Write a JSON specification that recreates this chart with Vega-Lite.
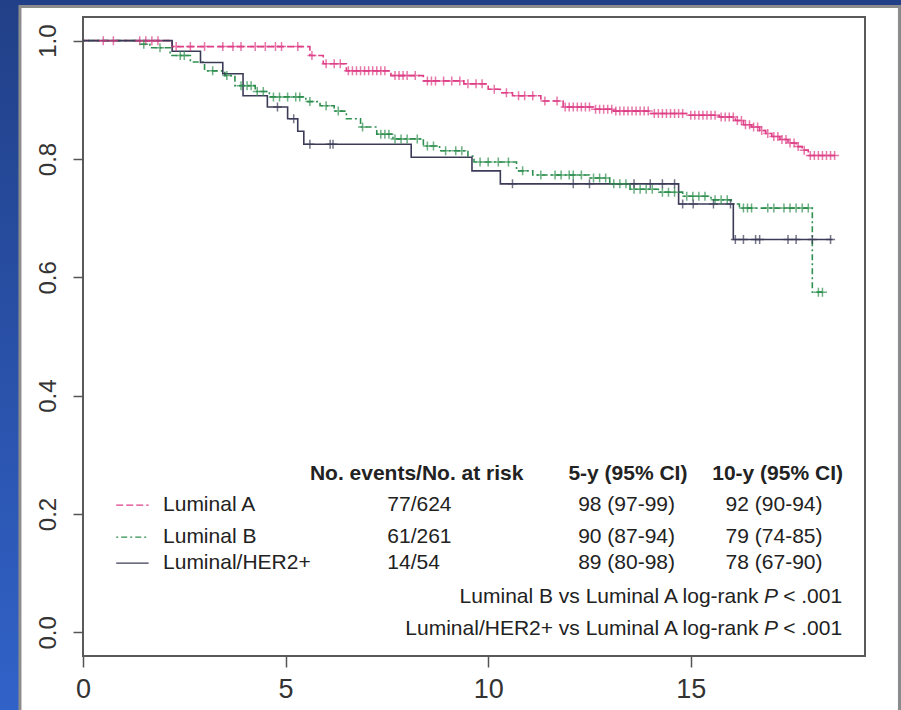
{
  "$schema": "https://vega.github.io/schema/vega-lite/v6.json",
  "width": 782,
  "height": 639,
  "autosize": {"type": "none"},
  "padding": {"left": 83, "top": 17, "right": 36, "bottom": 54},
  "background": "#2a52a8",
  "config": {
    "view": {"stroke": null},
    "font": "Liberation Sans",
    "axis": {"grid": false, "domain": false, "labelColor": "#333333", "tickColor": "#555555", "tickWidth": 1.5, "labelFont": "Liberation Sans", "labelOverlap": false, "labelFlush": false},
    "axisX": {"labelFontSize": 27, "tickSize": 11, "labelPadding": 9},
    "axisY": {"labelFontSize": 24, "labelAngle": -90, "labelAlign": "center", "labelBaseline": "bottom", "tickSize": 10, "labelPadding": 13}
  },
  "datasets": {
    "curves": [
      {"g": "A", "t": 0, "s": 1}, {"g": "A", "t": 2.2, "s": 0.99}, {"g": "A", "t": 5.6, "s": 0.975}, {"g": "A", "t": 5.93, "s": 0.961}, {"g": "A", "t": 6.5, "s": 0.949}, {"g": "A", "t": 7.6, "s": 0.941}, {"g": "A", "t": 8.4, "s": 0.932}, {"g": "A", "t": 9.4, "s": 0.927}, {"g": "A", "t": 10.0, "s": 0.918}, {"g": "A", "t": 10.3, "s": 0.912}, {"g": "A", "t": 10.6, "s": 0.907}, {"g": "A", "t": 11.3, "s": 0.898}, {"g": "A", "t": 11.85, "s": 0.888}, {"g": "A", "t": 12.6, "s": 0.884}, {"g": "A", "t": 13.1, "s": 0.881}, {"g": "A", "t": 14.0, "s": 0.877}, {"g": "A", "t": 14.9, "s": 0.874}, {"g": "A", "t": 15.7, "s": 0.871}, {"g": "A", "t": 16.1, "s": 0.865}, {"g": "A", "t": 16.3, "s": 0.858}, {"g": "A", "t": 16.5, "s": 0.854}, {"g": "A", "t": 16.7, "s": 0.848}, {"g": "A", "t": 16.85, "s": 0.843}, {"g": "A", "t": 17.0, "s": 0.838}, {"g": "A", "t": 17.2, "s": 0.833}, {"g": "A", "t": 17.4, "s": 0.827}, {"g": "A", "t": 17.6, "s": 0.821}, {"g": "A", "t": 17.75, "s": 0.815}, {"g": "A", "t": 17.9, "s": 0.806}, {"g": "A", "t": 18.6, "s": 0.806},
      {"g": "B", "t": 0, "s": 1}, {"g": "B", "t": 1.4, "s": 0.994}, {"g": "B", "t": 1.65, "s": 0.988}, {"g": "B", "t": 2.15, "s": 0.975}, {"g": "B", "t": 2.65, "s": 0.964}, {"g": "B", "t": 3.0, "s": 0.949}, {"g": "B", "t": 3.5, "s": 0.941}, {"g": "B", "t": 3.75, "s": 0.924}, {"g": "B", "t": 4.25, "s": 0.914}, {"g": "B", "t": 4.6, "s": 0.905}, {"g": "B", "t": 5.5, "s": 0.897}, {"g": "B", "t": 5.85, "s": 0.89}, {"g": "B", "t": 6.2, "s": 0.881}, {"g": "B", "t": 6.5, "s": 0.868}, {"g": "B", "t": 6.85, "s": 0.854}, {"g": "B", "t": 7.25, "s": 0.842}, {"g": "B", "t": 7.65, "s": 0.834}, {"g": "B", "t": 8.4, "s": 0.822}, {"g": "B", "t": 8.8, "s": 0.814}, {"g": "B", "t": 9.5, "s": 0.805}, {"g": "B", "t": 9.65, "s": 0.795}, {"g": "B", "t": 10.7, "s": 0.78}, {"g": "B", "t": 11.1, "s": 0.773}, {"g": "B", "t": 12.5, "s": 0.768}, {"g": "B", "t": 13.0, "s": 0.758}, {"g": "B", "t": 13.5, "s": 0.749}, {"g": "B", "t": 14.2, "s": 0.744}, {"g": "B", "t": 14.8, "s": 0.737}, {"g": "B", "t": 15.5, "s": 0.731}, {"g": "B", "t": 16.0, "s": 0.724}, {"g": "B", "t": 16.2, "s": 0.717}, {"g": "B", "t": 18.0, "s": 0.575}, {"g": "B", "t": 18.25, "s": 0.575},
      {"g": "H", "t": 0, "s": 1}, {"g": "H", "t": 2.2, "s": 0.982}, {"g": "H", "t": 2.9, "s": 0.963}, {"g": "H", "t": 3.45, "s": 0.944}, {"g": "H", "t": 3.95, "s": 0.907}, {"g": "H", "t": 4.55, "s": 0.888}, {"g": "H", "t": 5.05, "s": 0.868}, {"g": "H", "t": 5.3, "s": 0.847}, {"g": "H", "t": 5.45, "s": 0.825}, {"g": "H", "t": 8.1, "s": 0.803}, {"g": "H", "t": 9.6, "s": 0.78}, {"g": "H", "t": 10.3, "s": 0.758}, {"g": "H", "t": 14.7, "s": 0.724}, {"g": "H", "t": 16.05, "s": 0.664}, {"g": "H", "t": 18.5, "s": 0.664}
    ],
    "censor": [
      {"g": "A", "t": 0.5, "s": 1}, {"g": "A", "t": 0.75, "s": 1}, {"g": "A", "t": 1.4, "s": 1}, {"g": "A", "t": 1.55, "s": 1}, {"g": "A", "t": 1.7, "s": 1}, {"g": "A", "t": 1.85, "s": 1},
      {"g": "A", "t": 2.3, "s": 0.99}, {"g": "A", "t": 2.65, "s": 0.99}, {"g": "A", "t": 3.0, "s": 0.99}, {"g": "A", "t": 3.45, "s": 0.99}, {"g": "A", "t": 3.7, "s": 0.99}, {"g": "A", "t": 3.9, "s": 0.99}, {"g": "A", "t": 4.25, "s": 0.99}, {"g": "A", "t": 4.5, "s": 0.99}, {"g": "A", "t": 4.75, "s": 0.99}, {"g": "A", "t": 4.9, "s": 0.99}, {"g": "A", "t": 5.3, "s": 0.99},
      {"g": "A", "t": 5.65, "s": 0.975}, {"g": "A", "t": 6.0, "s": 0.961}, {"g": "A", "t": 6.2, "s": 0.961}, {"g": "A", "t": 6.35, "s": 0.961},
      {"g": "A", "t": 6.55, "s": 0.949}, {"g": "A", "t": 6.65, "s": 0.949}, {"g": "A", "t": 6.75, "s": 0.949}, {"g": "A", "t": 6.85, "s": 0.949}, {"g": "A", "t": 6.95, "s": 0.949}, {"g": "A", "t": 7.05, "s": 0.949}, {"g": "A", "t": 7.15, "s": 0.949}, {"g": "A", "t": 7.25, "s": 0.949}, {"g": "A", "t": 7.35, "s": 0.949}, {"g": "A", "t": 7.45, "s": 0.949},
      {"g": "A", "t": 7.7, "s": 0.941}, {"g": "A", "t": 7.8, "s": 0.941}, {"g": "A", "t": 7.9, "s": 0.941}, {"g": "A", "t": 8.0, "s": 0.941}, {"g": "A", "t": 8.2, "s": 0.941},
      {"g": "A", "t": 8.5, "s": 0.932}, {"g": "A", "t": 8.6, "s": 0.932}, {"g": "A", "t": 8.7, "s": 0.932}, {"g": "A", "t": 8.9, "s": 0.932}, {"g": "A", "t": 9.1, "s": 0.932}, {"g": "A", "t": 9.3, "s": 0.932},
      {"g": "A", "t": 9.5, "s": 0.927}, {"g": "A", "t": 9.7, "s": 0.927}, {"g": "A", "t": 9.85, "s": 0.927},
      {"g": "A", "t": 10.15, "s": 0.918}, {"g": "A", "t": 10.45, "s": 0.912}, {"g": "A", "t": 10.75, "s": 0.907}, {"g": "A", "t": 10.9, "s": 0.907}, {"g": "A", "t": 11.1, "s": 0.907}, {"g": "A", "t": 11.4, "s": 0.898}, {"g": "A", "t": 11.7, "s": 0.898},
      {"g": "A", "t": 11.9, "s": 0.888}, {"g": "A", "t": 12.0, "s": 0.888}, {"g": "A", "t": 12.1, "s": 0.888}, {"g": "A", "t": 12.2, "s": 0.888}, {"g": "A", "t": 12.3, "s": 0.888}, {"g": "A", "t": 12.4, "s": 0.888}, {"g": "A", "t": 12.5, "s": 0.888},
      {"g": "A", "t": 12.65, "s": 0.884}, {"g": "A", "t": 12.75, "s": 0.884}, {"g": "A", "t": 12.85, "s": 0.884}, {"g": "A", "t": 12.95, "s": 0.884}, {"g": "A", "t": 13.05, "s": 0.884},
      {"g": "A", "t": 13.15, "s": 0.881}, {"g": "A", "t": 13.25, "s": 0.881}, {"g": "A", "t": 13.35, "s": 0.881}, {"g": "A", "t": 13.45, "s": 0.881}, {"g": "A", "t": 13.55, "s": 0.881}, {"g": "A", "t": 13.65, "s": 0.881}, {"g": "A", "t": 13.75, "s": 0.881}, {"g": "A", "t": 13.85, "s": 0.881}, {"g": "A", "t": 13.95, "s": 0.881},
      {"g": "A", "t": 14.1, "s": 0.877}, {"g": "A", "t": 14.2, "s": 0.877}, {"g": "A", "t": 14.3, "s": 0.877}, {"g": "A", "t": 14.4, "s": 0.877}, {"g": "A", "t": 14.5, "s": 0.877}, {"g": "A", "t": 14.6, "s": 0.877}, {"g": "A", "t": 14.7, "s": 0.877}, {"g": "A", "t": 14.8, "s": 0.877},
      {"g": "A", "t": 15.0, "s": 0.874}, {"g": "A", "t": 15.1, "s": 0.874}, {"g": "A", "t": 15.2, "s": 0.874}, {"g": "A", "t": 15.3, "s": 0.874}, {"g": "A", "t": 15.4, "s": 0.874}, {"g": "A", "t": 15.5, "s": 0.874}, {"g": "A", "t": 15.6, "s": 0.874},
      {"g": "A", "t": 15.75, "s": 0.871}, {"g": "A", "t": 15.85, "s": 0.871}, {"g": "A", "t": 15.95, "s": 0.871}, {"g": "A", "t": 16.05, "s": 0.871},
      {"g": "A", "t": 16.15, "s": 0.865}, {"g": "A", "t": 16.25, "s": 0.865}, {"g": "A", "t": 16.35, "s": 0.858}, {"g": "A", "t": 16.45, "s": 0.858}, {"g": "A", "t": 16.55, "s": 0.854}, {"g": "A", "t": 16.65, "s": 0.854}, {"g": "A", "t": 16.75, "s": 0.848}, {"g": "A", "t": 16.9, "s": 0.843}, {"g": "A", "t": 17.05, "s": 0.838}, {"g": "A", "t": 17.15, "s": 0.838}, {"g": "A", "t": 17.25, "s": 0.833}, {"g": "A", "t": 17.35, "s": 0.833}, {"g": "A", "t": 17.45, "s": 0.827}, {"g": "A", "t": 17.55, "s": 0.827}, {"g": "A", "t": 17.65, "s": 0.821}, {"g": "A", "t": 17.8, "s": 0.815},
      {"g": "A", "t": 17.95, "s": 0.806}, {"g": "A", "t": 18.05, "s": 0.806}, {"g": "A", "t": 18.15, "s": 0.806}, {"g": "A", "t": 18.25, "s": 0.806}, {"g": "A", "t": 18.35, "s": 0.806}, {"g": "A", "t": 18.45, "s": 0.806}, {"g": "A", "t": 18.55, "s": 0.806},
      {"g": "B", "t": 1.5, "s": 0.994}, {"g": "B", "t": 1.9, "s": 0.988}, {"g": "B", "t": 2.4, "s": 0.975}, {"g": "B", "t": 2.5, "s": 0.975}, {"g": "B", "t": 3.2, "s": 0.949}, {"g": "B", "t": 3.55, "s": 0.941}, {"g": "B", "t": 3.9, "s": 0.924}, {"g": "B", "t": 4.05, "s": 0.924}, {"g": "B", "t": 4.15, "s": 0.924}, {"g": "B", "t": 4.3, "s": 0.914}, {"g": "B", "t": 4.45, "s": 0.914}, {"g": "B", "t": 4.7, "s": 0.905}, {"g": "B", "t": 4.85, "s": 0.905}, {"g": "B", "t": 5.05, "s": 0.905}, {"g": "B", "t": 5.25, "s": 0.905}, {"g": "B", "t": 5.35, "s": 0.905}, {"g": "B", "t": 5.6, "s": 0.897}, {"g": "B", "t": 6.0, "s": 0.89}, {"g": "B", "t": 6.3, "s": 0.881}, {"g": "B", "t": 6.9, "s": 0.854}, {"g": "B", "t": 7.35, "s": 0.842}, {"g": "B", "t": 7.45, "s": 0.842}, {"g": "B", "t": 7.55, "s": 0.842}, {"g": "B", "t": 7.7, "s": 0.834}, {"g": "B", "t": 7.85, "s": 0.834}, {"g": "B", "t": 8.0, "s": 0.834}, {"g": "B", "t": 8.25, "s": 0.834}, {"g": "B", "t": 8.5, "s": 0.822}, {"g": "B", "t": 8.65, "s": 0.822}, {"g": "B", "t": 8.95, "s": 0.814}, {"g": "B", "t": 9.2, "s": 0.814}, {"g": "B", "t": 9.35, "s": 0.814}, {"g": "B", "t": 9.8, "s": 0.795}, {"g": "B", "t": 10.0, "s": 0.795}, {"g": "B", "t": 10.25, "s": 0.795}, {"g": "B", "t": 10.5, "s": 0.795}, {"g": "B", "t": 10.85, "s": 0.78}, {"g": "B", "t": 11.3, "s": 0.773}, {"g": "B", "t": 11.65, "s": 0.773}, {"g": "B", "t": 11.8, "s": 0.773}, {"g": "B", "t": 12.0, "s": 0.773}, {"g": "B", "t": 12.1, "s": 0.773}, {"g": "B", "t": 12.3, "s": 0.773}, {"g": "B", "t": 12.6, "s": 0.768}, {"g": "B", "t": 12.75, "s": 0.768}, {"g": "B", "t": 12.9, "s": 0.768}, {"g": "B", "t": 13.1, "s": 0.758}, {"g": "B", "t": 13.25, "s": 0.758}, {"g": "B", "t": 13.4, "s": 0.758}, {"g": "B", "t": 13.6, "s": 0.749}, {"g": "B", "t": 13.75, "s": 0.749}, {"g": "B", "t": 13.9, "s": 0.749}, {"g": "B", "t": 14.05, "s": 0.749}, {"g": "B", "t": 14.3, "s": 0.744}, {"g": "B", "t": 14.45, "s": 0.744}, {"g": "B", "t": 14.6, "s": 0.744}, {"g": "B", "t": 14.9, "s": 0.737}, {"g": "B", "t": 15.05, "s": 0.737}, {"g": "B", "t": 15.2, "s": 0.737}, {"g": "B", "t": 15.35, "s": 0.737}, {"g": "B", "t": 15.6, "s": 0.731}, {"g": "B", "t": 15.75, "s": 0.731}, {"g": "B", "t": 15.9, "s": 0.731}, {"g": "B", "t": 16.3, "s": 0.717}, {"g": "B", "t": 16.4, "s": 0.717}, {"g": "B", "t": 16.5, "s": 0.717}, {"g": "B", "t": 16.9, "s": 0.717}, {"g": "B", "t": 17.05, "s": 0.717}, {"g": "B", "t": 17.3, "s": 0.717}, {"g": "B", "t": 17.45, "s": 0.717}, {"g": "B", "t": 17.6, "s": 0.717}, {"g": "B", "t": 17.75, "s": 0.717}, {"g": "B", "t": 17.9, "s": 0.717}, {"g": "B", "t": 18.15, "s": 0.575}, {"g": "B", "t": 18.25, "s": 0.575},
      {"g": "H", "t": 4.8, "s": 0.888}, {"g": "H", "t": 5.2, "s": 0.868}, {"g": "H", "t": 5.6, "s": 0.825}, {"g": "H", "t": 6.1, "s": 0.825}, {"g": "H", "t": 6.17, "s": 0.825}, {"g": "H", "t": 10.6, "s": 0.758}, {"g": "H", "t": 12.1, "s": 0.758}, {"g": "H", "t": 12.5, "s": 0.758}, {"g": "H", "t": 13.6, "s": 0.758}, {"g": "H", "t": 14.0, "s": 0.758}, {"g": "H", "t": 14.3, "s": 0.758}, {"g": "H", "t": 14.6, "s": 0.758}, {"g": "H", "t": 14.8, "s": 0.724}, {"g": "H", "t": 15.06, "s": 0.724}, {"g": "H", "t": 15.56, "s": 0.724}, {"g": "H", "t": 15.98, "s": 0.724}, {"g": "H", "t": 16.1, "s": 0.664}, {"g": "H", "t": 16.3, "s": 0.664}, {"g": "H", "t": 16.6, "s": 0.664}, {"g": "H", "t": 16.7, "s": 0.664}, {"g": "H", "t": 17.4, "s": 0.664}, {"g": "H", "t": 17.6, "s": 0.664}, {"g": "H", "t": 18.0, "s": 0.664}, {"g": "H", "t": 18.45, "s": 0.664}
    ],
    "legend": [
      {"g": "A", "t": 0.82, "t2": 1.62, "s": 0.215},
      {"g": "B", "t": 0.82, "t2": 1.62, "s": 0.161},
      {"g": "H", "t": 0.82, "t2": 1.62, "s": 0.117}
    ],
    "labels": [
      {"text": "No. events/No. at risk", "t": 5.6, "s": 0.268, "role": "header"},
      {"text": "5-y (95% CI)", "t": 11.98, "s": 0.268, "role": "header"},
      {"text": "10-y (95% CI)", "t": 15.53, "s": 0.268, "role": "header"},
      {"text": "Luminal A", "t": 1.975, "s": 0.215, "role": "body"},
      {"text": "Luminal B", "t": 1.975, "s": 0.161, "role": "body"},
      {"text": "Luminal/HER2+", "t": 1.975, "s": 0.117, "role": "body"},
      {"text": "77/624", "t": 7.51, "s": 0.215, "role": "body"},
      {"text": "61/261", "t": 7.51, "s": 0.161, "role": "body"},
      {"text": "14/54", "t": 7.51, "s": 0.117, "role": "body"},
      {"text": "98 (97-99)", "t": 12.22, "s": 0.215, "role": "body"},
      {"text": "90 (87-94)", "t": 12.22, "s": 0.161, "role": "body"},
      {"text": "89 (80-98)", "t": 12.22, "s": 0.117, "role": "body"},
      {"text": "92 (90-94)", "t": 15.86, "s": 0.215, "role": "body"},
      {"text": "79 (74-85)", "t": 15.86, "s": 0.161, "role": "body"},
      {"text": "78 (67-90)", "t": 15.86, "s": 0.117, "role": "body"},
      {"text": "Luminal B vs Luminal A log-rank", "t": 16.67, "s": 0.059, "role": "footer"},
      {"text": "Luminal/HER2+ vs Luminal A log-rank", "t": 16.67, "s": 0.005, "role": "footer"},
      {"text": "P", "t": 16.81, "s": 0.059, "role": "italic"},
      {"text": "P", "t": 16.81, "s": 0.005, "role": "italic"},
      {"text": "< .001", "t": 17.28, "s": 0.059, "role": "body"},
      {"text": "< .001", "t": 17.28, "s": 0.005, "role": "body"}
    ]
  },
  "layer": [
    {
      "data": {"values": [{}]},
      "mark": {"type": "rect", "fill": {"gradient": "linear", "x1": 0, "y1": 0, "x2": 0, "y2": 1, "stops": [{"offset": 0, "color": "#213f86"}, {"offset": 1, "color": "#3264cc"}]}},
      "encoding": {
        "x": {"datum": -3, "type": "quantitative", "title": null, "scale": {"domain": [0, 19.3], "nice": false, "zero": false}, "axis": {"values": [0, 5, 10, 15], "zindex": 2}},
        "x2": {"datum": 23},
        "y": {"datum": -0.2, "type": "quantitative", "title": null, "scale": {"domain": [-0.04, 1.04], "nice": false, "zero": false}, "axis": {"values": [0, 0.2, 0.4, 0.6, 0.8, 1.0], "format": ".1f", "zindex": 2}},
        "y2": {"datum": 1.1}
      }
    },
    {
      "data": {"values": [{}]},
      "mark": {"type": "rect", "fill": "#ffffff", "stroke": "#8c8c8c", "strokeWidth": 3},
      "encoding": {
        "x": {"datum": -1.556, "type": "quantitative", "title": null, "scale": {"domain": [0, 19.3], "nice": false, "zero": false}, "axis": {"values": [0, 5, 10, 15], "zindex": 2}},
        "x2": {"datum": 20.15},
        "y": {"datum": -0.2, "type": "quantitative", "title": null, "scale": {"domain": [-0.04, 1.04], "nice": false, "zero": false}, "axis": {"values": [0, 0.2, 0.4, 0.6, 0.8, 1.0], "format": ".1f", "zindex": 2}},
        "y2": {"datum": 1.0576}
      }
    },
    {
      "data": {"values": [{}]},
      "mark": {"type": "rect", "fillOpacity": 0, "fill": "#ffffff", "stroke": "#5a5a5a", "strokeWidth": 2},
      "encoding": {
        "x": {"datum": 0, "type": "quantitative", "title": null, "scale": {"domain": [0, 19.3], "nice": false, "zero": false}, "axis": {"values": [0, 5, 10, 15], "zindex": 2}},
        "x2": {"datum": 19.3},
        "y": {"datum": -0.04, "type": "quantitative", "title": null, "scale": {"domain": [-0.04, 1.04], "nice": false, "zero": false}, "axis": {"values": [0, 0.2, 0.4, 0.6, 0.8, 1.0], "format": ".1f", "zindex": 2}},
        "y2": {"datum": 1.04}
      }
    },
    {
      "data": {"name": "curves"},
      "mark": {"type": "line", "interpolate": "step-after", "strokeWidth": 1.6},
      "encoding": {
        "x": {"field": "t", "type": "quantitative", "title": null, "scale": {"domain": [0, 19.3], "nice": false, "zero": false}, "axis": {"values": [0, 5, 10, 15], "zindex": 2}},
        "y": {"field": "s", "type": "quantitative", "title": null, "scale": {"domain": [-0.04, 1.04], "nice": false, "zero": false}, "axis": {"values": [0, 0.2, 0.4, 0.6, 0.8, 1.0], "format": ".1f", "zindex": 2}},
        "color": {"field": "g", "type": "nominal", "scale": {"domain": ["A", "B", "H"], "range": ["#de3f86", "#2f8f4f", "#3b3b58"]}, "legend": null},
        "strokeDash": {"field": "g", "type": "nominal", "scale": {"domain": ["A", "B", "H"], "range": [[7, 3], [2, 3, 6, 3], [1, 0]]}, "legend": null}
      }
    },
    {
      "data": {"name": "censor"},
      "mark": {"type": "point", "shape": "M-1,0L1,0M0,-1L0,1", "filled": false, "size": 81, "strokeWidth": 1.5},
      "encoding": {
        "x": {"field": "t", "type": "quantitative", "title": null, "scale": {"domain": [0, 19.3], "nice": false, "zero": false}, "axis": {"values": [0, 5, 10, 15], "zindex": 2}},
        "y": {"field": "s", "type": "quantitative", "title": null, "scale": {"domain": [-0.04, 1.04], "nice": false, "zero": false}, "axis": {"values": [0, 0.2, 0.4, 0.6, 0.8, 1.0], "format": ".1f", "zindex": 2}},
        "color": {"field": "g", "type": "nominal", "scale": {"domain": ["A", "B", "H"], "range": ["#de3f86", "#2f8f4f", "#3b3b58"]}, "legend": null}
      }
    },
    {
      "data": {"name": "legend"},
      "mark": {"type": "rule", "strokeWidth": 1.2},
      "encoding": {
        "x": {"field": "t", "type": "quantitative", "title": null, "scale": {"domain": [0, 19.3], "nice": false, "zero": false}, "axis": {"values": [0, 5, 10, 15], "zindex": 2}},
        "x2": {"field": "t2"},
        "y": {"field": "s", "type": "quantitative", "title": null, "scale": {"domain": [-0.04, 1.04], "nice": false, "zero": false}, "axis": {"values": [0, 0.2, 0.4, 0.6, 0.8, 1.0], "format": ".1f", "zindex": 2}},
        "color": {"field": "g", "type": "nominal", "scale": {"domain": ["A", "B", "H"], "range": ["#de3f86", "#2f8f4f", "#3b3b58"]}, "legend": null},
        "strokeDash": {"field": "g", "type": "nominal", "scale": {"domain": ["A", "B", "H"], "range": [[7, 3], [2, 3, 6, 3], [1, 0]]}, "legend": null}
      }
    },
    {
      "data": {"name": "labels"},
      "transform": [{"filter": "datum.role === 'header'"}],
      "mark": {"type": "text", "align": "left", "baseline": "middle", "fontSize": 21, "fontWeight": "bold", "color": "#222222"},
      "encoding": {
        "x": {"field": "t", "type": "quantitative", "title": null, "scale": {"domain": [0, 19.3], "nice": false, "zero": false}, "axis": {"values": [0, 5, 10, 15], "zindex": 2}},
        "y": {"field": "s", "type": "quantitative", "title": null, "scale": {"domain": [-0.04, 1.04], "nice": false, "zero": false}, "axis": {"values": [0, 0.2, 0.4, 0.6, 0.8, 1.0], "format": ".1f", "zindex": 2}},
        "text": {"field": "text"}
      }
    },
    {
      "data": {"name": "labels"},
      "transform": [{"filter": "datum.role === 'body'"}],
      "mark": {"type": "text", "align": "left", "baseline": "middle", "fontSize": 21, "color": "#222222"},
      "encoding": {
        "x": {"field": "t", "type": "quantitative", "title": null, "scale": {"domain": [0, 19.3], "nice": false, "zero": false}, "axis": {"values": [0, 5, 10, 15], "zindex": 2}},
        "y": {"field": "s", "type": "quantitative", "title": null, "scale": {"domain": [-0.04, 1.04], "nice": false, "zero": false}, "axis": {"values": [0, 0.2, 0.4, 0.6, 0.8, 1.0], "format": ".1f", "zindex": 2}},
        "text": {"field": "text"}
      }
    },
    {
      "data": {"name": "labels"},
      "transform": [{"filter": "datum.role === 'footer'"}],
      "mark": {"type": "text", "align": "right", "baseline": "middle", "fontSize": 21, "color": "#222222"},
      "encoding": {
        "x": {"field": "t", "type": "quantitative", "title": null, "scale": {"domain": [0, 19.3], "nice": false, "zero": false}, "axis": {"values": [0, 5, 10, 15], "zindex": 2}},
        "y": {"field": "s", "type": "quantitative", "title": null, "scale": {"domain": [-0.04, 1.04], "nice": false, "zero": false}, "axis": {"values": [0, 0.2, 0.4, 0.6, 0.8, 1.0], "format": ".1f", "zindex": 2}},
        "text": {"field": "text"}
      }
    },
    {
      "data": {"name": "labels"},
      "transform": [{"filter": "datum.role === 'italic'"}],
      "mark": {"type": "text", "align": "left", "baseline": "middle", "fontSize": 21, "fontStyle": "italic", "color": "#222222"},
      "encoding": {
        "x": {"field": "t", "type": "quantitative", "title": null, "scale": {"domain": [0, 19.3], "nice": false, "zero": false}, "axis": {"values": [0, 5, 10, 15], "zindex": 2}},
        "y": {"field": "s", "type": "quantitative", "title": null, "scale": {"domain": [-0.04, 1.04], "nice": false, "zero": false}, "axis": {"values": [0, 0.2, 0.4, 0.6, 0.8, 1.0], "format": ".1f", "zindex": 2}},
        "text": {"field": "text"}
      }
    }
  ]
}
